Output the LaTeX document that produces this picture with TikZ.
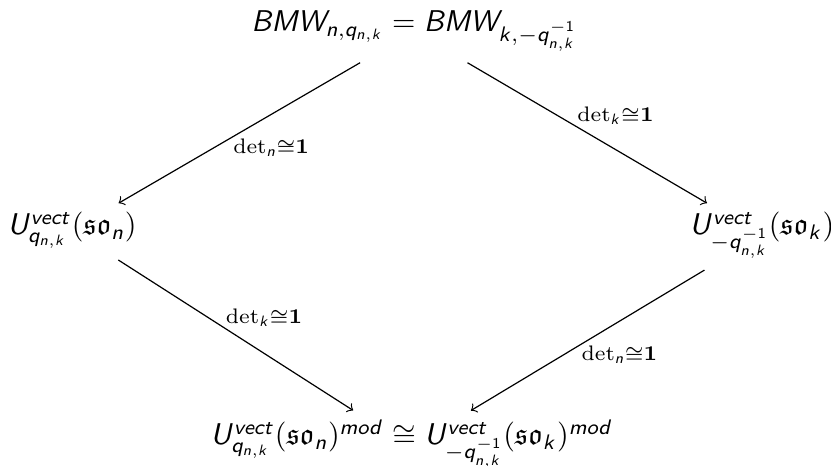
\documentclass[tikz,border=0pt]{standalone}
\usepackage{amsmath,amssymb,amsthm,amscd,amsfonts}
\usepackage{xcolor}
\usepackage{tikz}
\usetikzlibrary{arrows}
\usetikzlibrary{calc}
% sans italic letters in math, as in the slides
\DeclareSymbolFont{sfit}{OT1}{cmss}{m}{sl}
\DeclareSymbolFont{sfup}{OT1}{cmss}{m}{n}
\DeclareMathSymbol{B}{\mathalpha}{sfit}{`B}
\DeclareMathSymbol{M}{\mathalpha}{sfit}{`M}
\DeclareMathSymbol{W}{\mathalpha}{sfit}{`W}
\DeclareMathSymbol{U}{\mathalpha}{sfit}{`U}
\DeclareMathSymbol{n}{\mathalpha}{sfit}{`n}
\DeclareMathSymbol{q}{\mathalpha}{sfit}{`q}
\DeclareMathSymbol{k}{\mathalpha}{sfit}{`k}
\DeclareMathSymbol{v}{\mathalpha}{sfit}{`v}
\DeclareMathSymbol{e}{\mathalpha}{sfit}{`e}
\DeclareMathSymbol{c}{\mathalpha}{sfit}{`c}
\DeclareMathSymbol{t}{\mathalpha}{sfit}{`t}
\DeclareMathSymbol{m}{\mathalpha}{sfit}{`m}
\DeclareMathSymbol{o}{\mathalpha}{sfit}{`o}
\DeclareMathSymbol{d}{\mathalpha}{sfit}{`d}
\DeclareMathSymbol{1}{\mathalpha}{sfup}{`1}
\tikzstyle{obj} = [anchor=base, inner sep=2pt]
\tikzstyle{lab} = [auto, pos=0.5, inner sep=0.5ex, xshift=-5pt]

\begin{document}
\begin{tikzpicture}
    [x=0.333pt, y=0.333pt, >=to, shorten >=1.5pt, shorten <=3pt]
    \useasboundingbox (0,0) rectangle (831,466);
    \node[obj] (bmw) at (414,434) {$BMW_{n,q_{n,k}}=BMW_{k,-q_{n,k}^{-1}}$};
    \node[obj] (uleft) at (72,231) {$U^{vect}_{q_{n,k}}(\mathfrak{so}_n)$};
    \node[obj] (uright) at (762,231) {$U^{vect}_{-q_{n,k}^{-1}}(\mathfrak{so}_k)$};
    \node[obj] (umod) at (412,21) {$U^{vect}_{q_{n,k}}(\mathfrak{so}_n)^{mod}\cong U^{vect}_{-q_{n,k}^{-1}}(\mathfrak{so}_k)^{mod}$};
    \draw[->] (bmw) -- (uleft) node[lab] {$\scriptstyle\det_n\cong\mathbf{1}$};
    \draw[->] (bmw) -- (uright) node[lab] {$\scriptstyle\det_k\cong\mathbf{1}$};
    \draw[->] (uleft) -- ([shift={(-55,0)}]umod.north) node[lab] {$\scriptstyle\det_k\cong\mathbf{1}$};
    \draw[->] (uright) -- ([shift={(55,0)}]umod.north) node[lab] {$\scriptstyle\det_n\cong\mathbf{1}$};
  \end{tikzpicture}
\end{document}
